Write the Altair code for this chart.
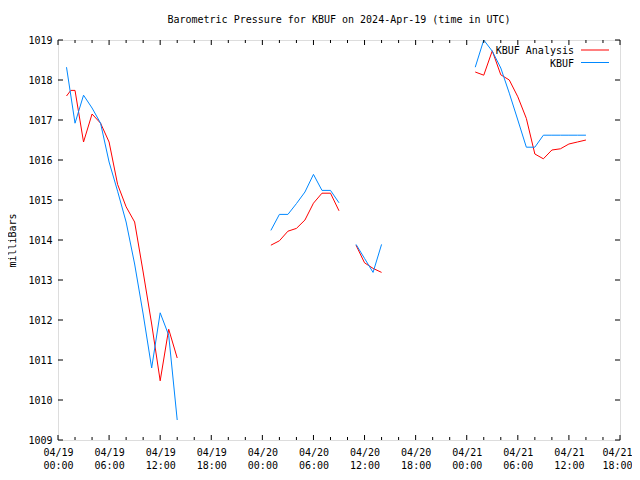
import altair as alt
import pandas as pd

# ---- data (hours after 2024-04-19 00:00 UTC) ----
hours_kbuf_1 = [1, 2, 3, 4, 5, 6, 7, 8, 9, 10, 11, 12, 13, 14]
kbuf_1 = [1018.32, 1016.92, 1017.62, 1017.30, 1016.92, 1015.95, 1015.22,
          1014.45, 1013.40, 1012.15, 1010.80, 1012.18, 1011.62, 1009.50]
hours_anal_1 = [1, 1.5, 2, 3, 4, 5, 6, 7, 8, 9, 10, 11, 12, 13, 14]
anal_1 = [1017.60, 1017.74, 1017.74, 1016.45, 1017.15, 1016.92, 1016.45,
          1015.39, 1014.83, 1014.45, 1013.20, 1011.90, 1010.48, 1011.77, 1011.05]

hours_2 = [25, 26, 27, 28, 29, 30, 31, 32, 33]
kbuf_2 = [1014.24, 1014.64, 1014.64, 1014.91, 1015.20, 1015.64, 1015.24, 1015.24, 1014.93]
anal_2 = [1013.87, 1013.98, 1014.22, 1014.29, 1014.50, 1014.92, 1015.17, 1015.17, 1014.73]

hours_3 = [35, 36, 37, 38]
kbuf_3 = [1013.89, 1013.54, 1013.19, 1013.89]
anal_3 = [1013.87, 1013.43, 1013.29, 1013.19]

hours_4 = [49, 50, 51, 52, 53, 54, 55, 56, 57, 58, 59, 60, 61, 62]
kbuf_4 = [1018.32, 1019.00, 1018.72, 1018.30, 1017.67, 1017.00, 1016.32,
          1016.32, 1016.62, 1016.62, 1016.62, 1016.62, 1016.62, 1016.62]
anal_4 = [1018.20, 1018.12, 1018.73, 1018.13, 1018.00, 1017.58, 1017.04,
          1016.15, 1016.03, 1016.25, 1016.28, 1016.40, 1016.45, 1016.50]

series_names = ["KBUF Analysis", "KBUF"]
series_colors = ["#ff0000", "#0088ff"]

tick_days = ["04/19", "04/19", "04/19", "04/19", "04/20", "04/20",
             "04/20", "04/20", "04/21", "04/21", "04/21", "04/21"]
tick_times = ["00:00", "06:00", "12:00", "18:00"] * 3
major_ticks = [0, 6, 12, 18, 24, 30, 36, 42, 48, 54, 60, 66]
minor_ticks = [h for h in range(0, 67, 2) if h % 6 != 0]
y_ticks = list(range(1009, 1020))

# ---- build table ----
rows = []
def add(hours, vals, name, seg):
    for h, v in zip(hours, vals):
        rows.append({"hour": h, "value": v, "series": name, "seg": f"{name}-{seg}"})

add(hours_anal_1, anal_1, "KBUF Analysis", 1)
add(hours_2, anal_2, "KBUF Analysis", 2)
add(hours_3, anal_3, "KBUF Analysis", 3)
add(hours_4, anal_4, "KBUF Analysis", 4)
add(hours_kbuf_1, kbuf_1, "KBUF", 1)
add(hours_2, kbuf_2, "KBUF", 2)
add(hours_3, kbuf_3, "KBUF", 3)
add(hours_4, kbuf_4, "KBUF", 4)
df = pd.DataFrame(rows)

FONT = "DejaVu Sans Mono"
W, H = 562, 400

days_js = "[" + ",".join(f"'{d}'" for d in tick_days) + "]"
times_js = "[" + ",".join(f"'{t}'" for t in tick_times) + "]"
label_expr = f"[{days_js}[round(datum.value/6)], {times_js}[round(datum.value/6)]]"

xscale = alt.Scale(domain=[0, 66], nice=False, zero=False)
yscale = alt.Scale(domain=[1009, 1019], nice=False, zero=False)

x_axis = alt.Axis(values=major_ticks, labelExpr=label_expr, ticks=False,
                  domain=False, grid=False, labelFont=FONT, labelFontSize=10,
                  labelColor="black", labelPadding=7, labelLineHeight=13,
                  labelFlush=False, labelOverlap=False, title=None,
                  labelOffset={"condition": {"test": "datum.value >= 66", "value": -3},
                               "value": 0})
y_axis = alt.Axis(values=y_ticks, labelExpr="format(datum.value, 'd')",
                  ticks=False, domain=False, grid=False, labelFont=FONT,
                  labelFontSize=10, labelColor="black", labelPadding=6,
                  labelOverlap=False, labelFlush=False, labelBound=False,
                  title="milliBars", titleFont=FONT, titleFontSize=10,
                  titleFontWeight="normal", titleColor="black", titlePadding=10)

def X(field="hour:Q"):
    return alt.X(field, scale=xscale, axis=x_axis)

def Y(field="value:Q"):
    return alt.Y(field, scale=yscale, axis=y_axis)

color_scale = alt.Scale(domain=series_names, range=series_colors)

lines = alt.Chart(df).mark_line(strokeWidth=1).encode(
    x=X(),
    y=Y(),
    color=alt.Color("series:N", scale=color_scale, legend=None),
    detail="seg:N",
    order="hour:Q",
)

major_df = pd.DataFrame({"hour": major_ticks})
minor_df = pd.DataFrame({"hour": minor_ticks})
ytick_df = pd.DataFrame({"value": y_ticks})

def xticks(d, length):
    bottom = alt.Chart(d).mark_rule(color="black", strokeWidth=1).encode(
        x=X(), y=alt.value(H), y2=alt.value(H - length))
    top = alt.Chart(d).mark_rule(color="black", strokeWidth=1).encode(
        x=X(), y=alt.value(0), y2=alt.value(length))
    return [bottom, top]

yt_left = alt.Chart(ytick_df).mark_rule(color="black", strokeWidth=1).encode(
    y=Y(), x=alt.value(0), x2=alt.value(5))
yt_right = alt.Chart(ytick_df).mark_rule(color="black", strokeWidth=1).encode(
    y=Y(), x=alt.value(W), x2=alt.value(W - 5))

legend_layers = []
for i, (name, col) in enumerate(zip(series_names, series_colors)):
    ld = pd.DataFrame({"series": [name]})
    ty = 10 + 12.5 * i
    legend_layers.append(
        alt.Chart(ld).mark_text(align="right", baseline="middle", font=FONT,
                                fontSize=10, color="black").encode(
            text="series:N", x=alt.value(516), y=alt.value(ty + 1)))
    legend_layers.append(
        alt.Chart(ld).mark_rule(strokeWidth=1, color=col).encode(
            x=alt.value(523), x2=alt.value(551), y=alt.value(ty)))

chart = alt.layer(
    lines, *xticks(major_df, 5), *xticks(minor_df, 3), yt_left, yt_right, *legend_layers
).properties(
    width=W, height=H,
    title=alt.TitleParams("Barometric Pressure for KBUF on 2024-Apr-19 (time in UTC)",
                          font=FONT, fontSize=10, fontWeight="normal", color="black",
                          anchor="middle", offset=10),
    autosize=alt.AutoSizeParams(type="none"),
    padding={"left": 50, "top": 32, "right": 12, "bottom": 32},
).configure_view(stroke="black", strokeWidth=1).configure(background="white")

chart.save("out.html", embed_options={"renderer": "svg", "actions": False})
